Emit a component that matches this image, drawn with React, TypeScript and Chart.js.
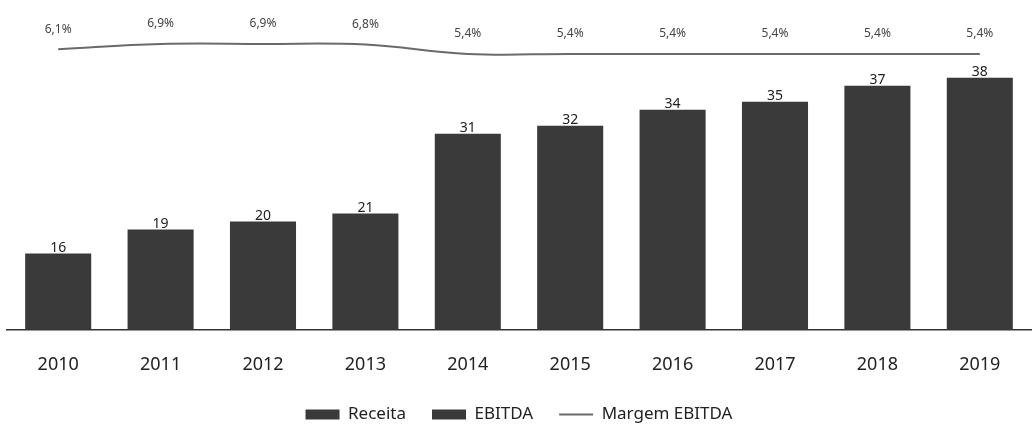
import React, { useEffect, useRef } from "react";
import { Chart, registerables } from "chart.js";

Chart.register(...registerables);

const years = ["2010", "2011", "2012", "2013", "2014", "2015", "2016", "2017", "2018", "2019"];
const receita = [16, 19, 20, 21, 31, 32, 34, 35, 37, 38];
const ebitda: (number | null)[] = [];
const margem = [6.1, 6.9, 6.9, 6.8, 5.4, 5.4, 5.4, 5.4, 5.4, 5.4];

const FONT = '"Noto Sans", sans-serif';
const BAR = "#3a3a3a";
const LINE = "#6a6a6a";

const valueLabels = {
  id: "valueLabels",
  afterDatasetsDraw(chart: any) {
    const ctx = chart.ctx;
    ctx.save();
    ctx.textAlign = "center";
    ctx.textBaseline = "bottom";
    const barMeta = chart.getDatasetMeta(0);
    ctx.font = `14px ${FONT}`;
    ctx.fillStyle = "#222";
    barMeta.data.forEach((el: any, i: number) => {
      ctx.fillText(String(receita[i]), el.x, el.y + 1);
    });
    const lineMeta = chart.getDatasetMeta(2);
    ctx.font = `12px ${FONT}`;
    ctx.fillStyle = "#444";
    lineMeta.data.forEach((el: any, i: number) => {
      ctx.fillText(margem[i].toFixed(1).replace(".", ",") + "%", el.x, el.y - 14);
    });
    ctx.restore();
  },
};

export default function App() {
  const ref = useRef<HTMLCanvasElement | null>(null);

  useEffect(() => {
    if (!ref.current) return;
    const chart = new Chart(ref.current, {
      type: "bar",
      data: {
        labels: years,
        datasets: [
          {
            type: "bar",
            label: "Receita",
            data: receita,
            backgroundColor: BAR,
            barPercentage: 0.645,
            categoryPercentage: 1,
            grouped: false,
            order: 2,
          } as any,
          {
            type: "bar",
            label: "EBITDA",
            data: ebitda,
            backgroundColor: BAR,
            barPercentage: 0.645,
            categoryPercentage: 1,
            grouped: false,
            order: 3,
          } as any,
          {
            type: "line",
            label: "Margem EBITDA",
            data: margem,
            yAxisID: "y1",
            borderColor: LINE,
            borderWidth: 2,
            pointRadius: 0,
            tension: 0.4,
            fill: false,
            order: 0,
          } as any,
        ],
      },
      options: {
        responsive: false,
        animation: false,
        layout: { padding: { top: 10, left: 7, right: 3, bottom: -5 } },
        plugins: {
          tooltip: { enabled: false },
          legend: {
            position: "bottom",
            labels: {
              font: { family: FONT, size: 17 },
              color: "#222",
              usePointStyle: true,
              pointStyleWidth: 34,
              boxHeight: 10,
              padding: 26,
              generateLabels: (c: any) =>
                c.data.datasets.map((ds: any, i: number) => ({
                  text: ds.label,
                  fillStyle: i < 2 ? BAR : "rgba(0,0,0,0)",
                  strokeStyle: i < 2 ? BAR : LINE,
                  lineWidth: i < 2 ? 0 : 2,
                  pointStyle: i < 2 ? "rect" : "line",
                  hidden: false,
                  datasetIndex: i,
                  fontColor: "#222",
                })),
            },
          },
        },
        scales: {
          x: {
            grid: { display: false, drawTicks: false },
            border: { display: true, color: "#333", width: 1.5 },
            ticks: { font: { family: FONT, size: 18 }, color: "#222", padding: 25 },
            afterFit: (scale: any) => {
              scale.height -= 21;
            },
          },
          y: { display: false, min: 6.5, max: 46.5 },
          y1: { display: false, min: -36, max: 12 },
        },
      },
      plugins: [valueLabels],
    });
    return () => chart.destroy();
  }, []);

  return (
    <div style={{ position: "absolute", left: 0, top: 0, width: 1034, height: 428, background: "#fff" }}>
      <canvas ref={ref} width={1034} height={428} style={{ display: "block" }} />
    </div>
  );
}
